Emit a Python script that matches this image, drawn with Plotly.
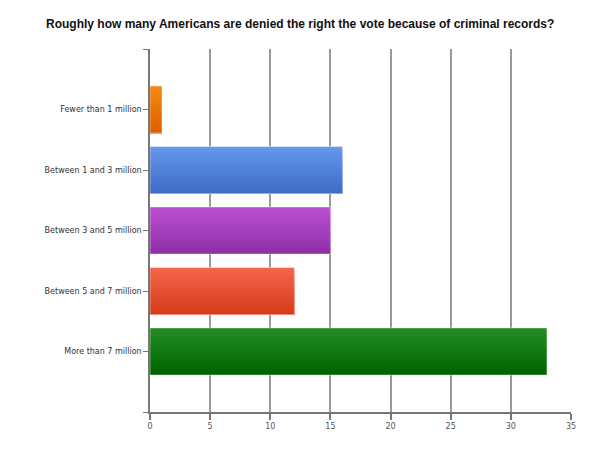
import plotly.graph_objects as go

title = "Roughly how many Americans are denied the right the vote because of criminal records?"
categories = ["Fewer than 1 million", "Between 1 and 3 million", "Between 3 and 5 million",
              "Between 5 and 7 million", "More than 7 million"]
responses = [1, 16, 15, 12, 33]

# top / bottom colours of each bar's gradient
top_colors = ["#f58a10", "#6597ec", "#bb4fd2", "#f4654a", "#248c24"]
bottom_colors = ["#dd6000", "#3e6cc6", "#8f2fa6", "#d63c1c", "#006400"]


def mix(c1, c2, t):
    a = [int(c1[i:i + 2], 16) for i in (1, 3, 5)]
    b = [int(c2[i:i + 2], 16) for i in (1, 3, 5)]
    return "rgb(%d,%d,%d)" % tuple(round(a[j] + (b[j] - a[j]) * t) for j in range(3))


pos = list(range(len(categories)))
bar_w = 0.78
strips = 16

fig = go.Figure()
# gradient: each strip runs from its start down to the bar bottom, later strips on top
for k in range(strips):
    t = k / (strips - 1)
    fig.add_trace(go.Bar(
        x=responses, y=pos, orientation="h",
        width=bar_w - k * bar_w / strips,
        offset=-bar_w / 2 + k * bar_w / strips,
        marker=dict(color=[mix(a, b, t) for a, b in zip(top_colors, bottom_colors)],
                    line=dict(width=0)),
        showlegend=False, hoverinfo="skip" if k else "x+y",
    ))

# faint light outline round each bar
fig.add_trace(go.Bar(
    x=responses, y=pos, orientation="h", width=bar_w,
    marker=dict(color="rgba(0,0,0,0)", line=dict(color="rgba(255,255,255,0.45)", width=1)),
    showlegend=False, hoverinfo="skip",
))

# page body has an 8px margin, so the margins below are shifted by it
fig.update_layout(
    width=600, height=451,
    paper_bgcolor="white", plot_bgcolor="white",
    barmode="overlay",
    margin=dict(l=142, r=37, t=41, b=47),
    title=dict(text="<b>" + title + "</b>", x=0.487, xanchor="center", xref="container",
               y=0.965, yanchor="middle", yref="container",
               font=dict(family="Liberation Sans, Arial", size=12, color="#111")),
    font=dict(family="DejaVu Sans, Tahoma", size=8, color="#333"),
)
fig.update_xaxes(
    range=[0, 35], tickvals=[0, 5, 10, 15, 20, 25, 30, 35],
    showgrid=True, gridcolor="#9a9a9a", gridwidth=1.5,
    showline=True, linecolor="#777", linewidth=1.5,
    ticks="outside", ticklen=6, tickcolor="#777", tickwidth=1.5,
    tickfont=dict(color="#555"),
    zeroline=False, fixedrange=True,
)
fig.update_yaxes(
    range=[5, -1],
    tickvals=[-1] + pos + [5], ticktext=[""] + categories + [""],
    showgrid=False, zeroline=False,
    showline=True, linecolor="#777", linewidth=1.5,
    ticks="outside", ticklen=5, tickcolor="#777", tickwidth=1,
    fixedrange=True,
)

fig.write_html("out.html")
